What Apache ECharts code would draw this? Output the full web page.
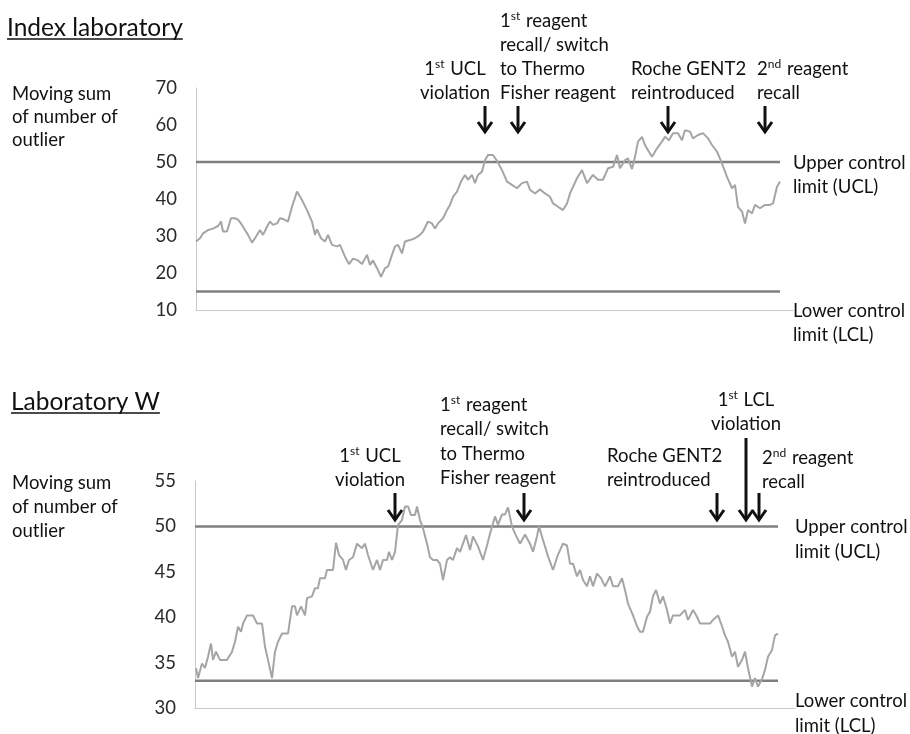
<!DOCTYPE html>
<html><head><meta charset="utf-8">
<script src="https://cdn.jsdelivr.net/npm/echarts@6/dist/echarts.min.js"></script>
<style>html,body{margin:0;padding:0;background:#fff}#c{width:910px;height:734px}</style>
</head><body><div id="c"></div>
<script>
// ---- Index laboratory: sample number and moving sum of outliers ----
const indexSamples = [0,4,7,12,17,22,25,27,31,35,39,42,46,49,52,56,59,64,67,71,74,77,81,84,87,92,96,101,106,111,116,119,121,125,129,132,136,141,144,149,153,157,162,166,171,174,177,181,185,189,192,196,199,202,206,209,214,219,224,227,232,236,239,242,247,251,254,257,261,265,269,272,276,279,282,286,289,292,297,301,306,311,316,321,326,331,334,339,344,349,354,357,362,367,371,374,381,386,391,397,402,407,412,417,421,424,429,432,436,439,442,446,449,452,456,461,466,469,473,477,482,486,489,494,497,502,507,512,516,521,526,531,536,539,542,546,549,552,556,559,564,569,574,577,581,584];
const indexValues = [28.5,29.4,30.7,31.6,32,32.7,33.9,31.2,31.2,34.8,34.8,34.4,33,31.6,30.3,28.2,29.4,31.6,30.3,32.5,33.9,33,33.4,34.8,34.6,33.9,37.9,42,39.7,37,33.9,30.3,31.8,29.4,28.5,30.3,27.6,27.2,27.6,24.4,22.4,23.9,23.4,22.4,24.9,22.2,23.4,21.3,19,21.3,21.7,24.9,27.2,27.6,25.3,28.5,28.9,29.4,30.3,31.2,33.9,33.4,32,33.4,34.8,37,38.4,40.6,42,44.7,46.5,45.2,46.5,44.3,46.5,47.4,50.5,51.9,51.9,50.3,47.8,44.7,43.8,42.9,44.3,44.7,42.5,41.5,42.6,41.5,40.6,38.8,37.9,37,38.8,41.5,45.6,47.8,44.3,46.5,45.2,45.2,48.3,48.7,51.9,48.3,50.5,51,48.1,51.4,55.5,56.8,54.6,53.2,51.4,53.7,55.5,56.8,55.9,57.8,57.8,55.9,58.6,58.2,56.4,57.3,57.8,56.4,54.6,52.8,49.6,46,42.9,43.8,37.9,36.6,33.4,37,36.1,38.4,37.5,38.4,38.4,38.8,43.3,44.7];
const indexUCL = 50, indexLCL = 15;
const indexYMin = 10, indexYMax = 70, indexYInterval = 10;
const indexEventSamples = [289, 322, 472, 569];

// ---- Laboratory W ----
const labWSamples = [1,3,7,10,13,16,18,21,25,32,37,40,43,46,48,52,58,62,67,70,73,77,80,83,87,93,97,100,102,106,110,112,117,120,123,125,130,132,138,141,144,148,151,154,158,162,167,170,173,178,182,185,188,192,194,197,200,203,207,210,213,216,220,222,225,228,232,235,238,242,245,248,252,255,258,262,265,268,271,275,278,283,288,292,295,300,303,307,310,313,317,320,325,330,335,338,342,344,348,353,358,363,368,372,375,378,382,385,388,392,395,398,402,406,410,415,418,423,427,430,433,438,442,445,448,452,455,458,461,465,468,472,475,478,485,490,493,498,502,505,515,518,523,527,530,533,537,540,543,547,550,553,557,560,563,567,570,573,577,580,583];
const labWValues = [34.4,33.3,34.9,34.4,35.65,37.1,35.3,36.2,35.3,35.3,36.2,37.3,38.95,38.4,39.3,40.2,40.2,39.3,39.3,36.75,35.3,33.3,36.2,37.3,38.2,38.2,41.2,41.2,40.2,41.2,40.2,42.1,42.3,43.2,43.2,44.3,44.3,45.2,45.2,48.2,46.85,46.3,45.2,46.3,46.6,48.1,47.6,48.1,46.85,45.2,46.3,45.2,46.3,46.3,47.2,46.3,47.2,50.15,50.7,52.2,52.2,51.25,51.25,52.2,50.7,49.8,48.1,46.6,46.3,46.3,45.9,44.1,46.3,46.6,46.3,47.6,47.2,48.1,49.05,47.4,48.9,47.8,46.3,47.9,49.2,51.1,50.2,51.3,51.3,52.1,50,49.2,48.1,49.1,48.1,47.2,48.9,50,48.5,46.7,45.2,46.9,48.1,47.9,45.9,45.9,44.5,45.2,44.1,43.4,44.5,43.4,44.8,44.3,43.4,44.5,43.4,43.4,44.3,43,41.5,40.2,39,38.4,38.4,40.05,40.6,42.3,43,41.5,42.3,40.8,39.3,40.2,40.2,40.8,39.7,40.8,40.05,39.3,39.3,39.7,40.2,39,38,37.3,35.65,36.2,34.55,35.3,36.2,34.4,32.35,33.3,32.35,33.2,34.2,35.65,36.4,38,38.2];
const labWUCL = 50, labWLCL = 33;
const labWYMin = 30, labWYMax = 55, labWYInterval = 5;
const labWEventSamples = [200, 329, 522, 551, 564];

const FONT = 'Lato, "Open Sans", sans-serif';
const dataColor = '#a5a5a5', limitColor = '#7f7f7f', axisColor = '#c9c9c9', textColor = '#111';
const ANN = 18.5;

function pairs(xs, ys){ return xs.map((x,i)=>[x, ys[i]]); }
function limitLine(xs, v){ return [[0, v], [xs[xs.length-1], v]]; }

const chart = echarts.init(document.getElementById('c'), null, {renderer:'canvas'});
function axisX(grid, max){
  return {gridIndex:grid, type:'value', min:0, max:max,
    axisLine:{show:true, lineStyle:{color:axisColor, width:1}},
    axisTick:{show:false}, axisLabel:{show:false}, splitLine:{show:false}};
}
function axisY(grid, min, max, interval){
  return {gridIndex:grid, type:'value', min:min, max:max, interval:interval,
    axisLine:{show:true, lineStyle:{color:axisColor, width:1}},
    axisTick:{show:false}, splitLine:{show:false},
    axisLabel:{fontSize:18.5, color:'#2a2a2a', margin:19, fontFamily:FONT}};
}
function lineSeries(ax, data, color, width){
  return {type:'line', xAxisIndex:ax, yAxisIndex:ax, data:data, showSymbol:false, symbol:'none',
    lineStyle:{color:color, width:width}, animation:false, silent:true};
}
chart.setOption({
  animation:false,
  grid:[{left:196, top:88, width:597, height:222}, {left:195, top:481, width:600, height:227}],
  xAxis:[axisX(0, 597), axisX(1, 600)],
  yAxis:[axisY(0, indexYMin, indexYMax, indexYInterval), axisY(1, labWYMin, labWYMax, labWYInterval)],
  series:[
    lineSeries(0, limitLine(indexSamples, indexUCL), limitColor, 2.5),
    lineSeries(0, limitLine(indexSamples, indexLCL), limitColor, 2.5),
    lineSeries(0, pairs(indexSamples, indexValues), dataColor, 2),
    lineSeries(1, limitLine(labWSamples, labWUCL), limitColor, 2.5),
    lineSeries(1, limitLine(labWSamples, labWLCL), limitColor, 2.5),
    lineSeries(1, pairs(labWSamples, labWValues), dataColor, 2)
  ]
});

const rich = {sup:{fontSize:12, fontFamily:FONT, fill:textColor, verticalAlign:'top', padding:[0,1,9,0]}};
function txt(text, x, y, align, size){
  return {type:'text', x:x, y:y, silent:true,
    style:{text:text, fontSize:size||ANN, fontFamily:FONT, fill:textColor, align:align||'left', verticalAlign:'middle', rich:rich}};
}
function block(lines, x, y0, align, lh){
  return lines.map((t,i)=>txt(t, x, y0 + i*(lh||24), align));
}
function arrow(x, yTop, yTip){
  return {type:'group', silent:true, children:[
    {type:'polyline', shape:{points:[[x,yTop],[x,yTip-1]]}, style:{stroke:'#111', lineWidth:3, fill:null}},
    {type:'polyline', shape:{points:[[x-7,yTip-10],[x,yTip],[x+7,yTip-10]]}, style:{stroke:'#111', lineWidth:3, fill:null, lineJoin:'miter'}}
  ]};
}
const px0 = s => chart.convertToPixel({xAxisIndex:0}, s);
const px1 = s => chart.convertToPixel({xAxisIndex:1}, s);
const mctx = document.createElement('canvas').getContext('2d');
function textW(t, size){ mctx.font = size + 'px ' + FONT; return mctx.measureText(t).width; }

let g = [];
// titles
const T1 = 'Index laboratory', T2 = 'Laboratory W', TS = 24.5;
g.push(txt(T1, 7, 28, 'left', TS));
g.push({type:'line', silent:true, shape:{x1:7,y1:39,x2:7+textW(T1,TS),y2:39}, style:{stroke:textColor, lineWidth:1.5}});
g.push(txt(T2, 11, 402, 'left', TS));
g.push({type:'line', silent:true, shape:{x1:11,y1:413,x2:11+textW(T2,TS),y2:413}, style:{stroke:textColor, lineWidth:1.5}});
// y-axis names
g = g.concat(block(['Moving sum','of number of','outlier'], 12, 94, 'left', 23));
g = g.concat(block(['Moving sum','of number of','outlier'], 12, 483, 'left', 24));
// right labels
g = g.concat(block(['Upper control','limit (UCL)'], 793, 163, 'left', 24));
g = g.concat(block(['Lower control','limit (LCL)'], 793, 311, 'left', 24));
g = g.concat(block(['Upper control','limit (UCL)'], 795, 527, 'left', 25));
g = g.concat(block(['Lower control','limit (LCL)'], 795, 701, 'left', 25));
// top annotations
g = g.concat(block(['1{sup|st} UCL','violation'], 455, 69, 'center'));
g = g.concat(block(['1{sup|st} reagent','recall/ switch','to Thermo','Fisher reagent'], 500, 21, 'left', 24));
g = g.concat(block(['Roche GENT2','reintroduced'], 631, 69, 'left'));
g = g.concat(block(['2{sup|nd} reagent','recall'], 757, 69, 'left'));
indexEventSamples.forEach(s => g.push(arrow(px0(s), 106, 132)));
// bottom annotations
g = g.concat(block(['1{sup|st} UCL','violation'], 370, 456, 'center'));
g = g.concat(block(['1{sup|st} reagent','recall/ switch','to Thermo','Fisher reagent'], 440, 405, 'left', 24.5));
g = g.concat(block(['Roche GENT2','reintroduced'], 607, 456, 'left'));
g = g.concat(block(['1{sup|st} LCL','violation'], 746, 400, 'center'));
g = g.concat(block(['2{sup|nd} reagent','recall'], 762, 458, 'left'));
labWEventSamples.forEach((s,i) => g.push(arrow(px1(s), i===3 ? 438 : 493, 520)));

chart.setOption({graphic:{elements:g}});
</script></body></html>
